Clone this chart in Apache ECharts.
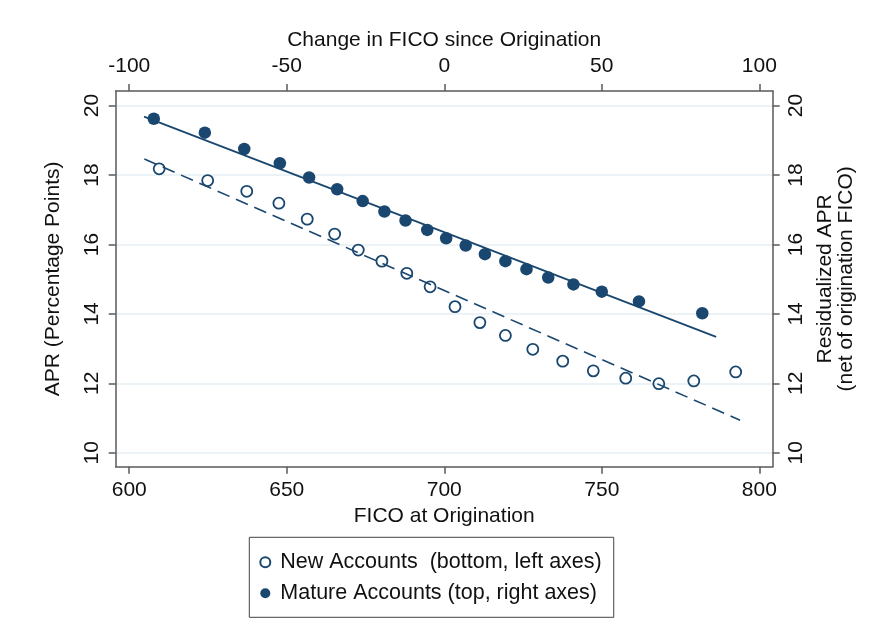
<!DOCTYPE html>
<html>
<head>
<meta charset="utf-8">
<script src="https://cdn.jsdelivr.net/npm/echarts@6/dist/echarts.min.js"></script>
<style>
html,body{margin:0;padding:0;background:#fff;}
#chart{width:873px;height:637px;}
</style>
</head>
<body>
<div id="chart"></div>
<script>
// ---- data ----
const newFico = [609.5,624.9,637.3,647.5,656.5,665.2,672.7,680.2,688.1,695.5,703.4,711.3,719.4,728.1,737.6,747.3,757.6,768.1,779.2,792.5];
const newApr = [18.18,17.84,17.53,17.19,16.73,16.30,15.84,15.52,15.17,14.78,14.21,13.75,13.38,12.98,12.64,12.36,12.15,11.99,12.07,12.33];
const matureChange = [-92.2,-76.0,-63.5,-52.2,-42.9,-34.0,-25.9,-19.0,-12.3,-5.4,0.6,6.8,12.9,19.4,26.1,33.0,41.0,50.0,61.8,81.9];
const matureApr = [19.62,19.22,18.75,18.34,17.93,17.59,17.25,16.95,16.69,16.42,16.18,15.97,15.72,15.52,15.29,15.05,14.85,14.64,14.36,14.02];
const newFitX = [604.8, 793.9];
const newFitY = [18.46, 10.94];
const matureFitX = [-95.3, 86.3];
const matureFitY = [19.68, 13.34];
const bottomTicks = [600,650,700,750,800];
const topTicks = [-100,-50,0,50,100];
const yTicks = [10,12,14,16,18,20];
const seriesNames = ['New Accounts  (bottom, left axes)', 'Mature Accounts (top, right axes)'];

const NAVY = '#1a476f';
const FONT = "'Liberation Sans', Arial, sans-serif";
const TXT = '#111';
const AXC = '#5a5a5a';

const zip = (a, b) => a.map((v, i) => [v, b[i]]);

function axisCommon(ticks) {
  return {
    axisLine: {show: true, onZero: false, lineStyle: {color: AXC, width: 1.5}},
    axisTick: {show: true, length: 7, customValues: ticks, lineStyle: {color: AXC, width: 1.5}},
    axisLabel: {customValues: ticks, color: TXT, fontFamily: FONT, fontSize: 21},
    nameTextStyle: {color: TXT, fontFamily: FONT, fontSize: 21},
    nameLocation: 'middle'
  };
}

const chart = echarts.init(document.getElementById('chart'), null, {renderer: 'canvas'});
const bx = axisCommon(bottomTicks), tx = axisCommon(topTicks), ly = axisCommon(yTicks), ry = axisCommon(yTicks);
bx.axisLabel.margin = 13; tx.axisLabel.margin = 14;
ly.axisLabel.margin = 13; ly.axisLabel.rotate = 90;
ry.axisLabel.margin = 13; ry.axisLabel.rotate = 90;

chart.setOption({
  animation: false,
  backgroundColor: '#fff',
  grid: {left: 115.7, right: 100.3, top: 91, bottom: 170.3, containLabel: false},
  legend: {
    data: seriesNames,
    orient: 'vertical',
    left: 249.3, top: 537.3,
    borderColor: '#444', borderWidth: 1,
    padding: [10, 12, 9, 10],
    itemWidth: 20, itemHeight: 10, itemGap: 1,
    textStyle: {color: TXT, fontFamily: FONT, fontSize: 21.5, lineHeight: 30}
  },
  xAxis: [
    Object.assign(bx, {type: 'value', position: 'bottom', min: 595.7, max: 804.25,
      name: 'FICO at Origination', nameGap: 36, splitLine: {show: false}}),
    Object.assign(tx, {type: 'value', position: 'top', min: -104.3, max: 104.25,
      name: 'Change in FICO since Origination', nameGap: 35, splitLine: {show: false}})
  ],
  yAxis: [
    Object.assign(ly, {type: 'value', position: 'left', min: 9.6, max: 20.42,
      name: 'APR (Percentage Points)', nameGap: 52, nameRotate: 90,
      splitLine: {show: true, lineStyle: {color: '#e6eff3', width: 1.5}}}),
    Object.assign(ry, {type: 'value', position: 'right', min: 9.6, max: 20.42,
      name: 'Residualized APR\n(net of origination FICO)', nameGap: 41, nameRotate: 90,
      splitLine: {show: false}})
  ],
  series: [
    {
      name: 'newFit', type: 'line', xAxisIndex: 0, yAxisIndex: 0, symbol: 'none', silent: true,
      data: zip(newFitX, newFitY),
      lineStyle: {color: NAVY, width: 1.6, type: [13, 7]}, z: 2
    },
    {
      name: 'matureFit', type: 'line', xAxisIndex: 1, yAxisIndex: 1, symbol: 'none', silent: true,
      data: zip(matureFitX, matureFitY),
      lineStyle: {color: NAVY, width: 1.8, type: 'solid'}, z: 2
    },
    {
      name: seriesNames[0], type: 'scatter', xAxisIndex: 0, yAxisIndex: 0,
      symbol: 'circle', symbolSize: 11,
      data: zip(newFico, newApr),
      itemStyle: {color: 'rgba(255,255,255,0)', borderColor: NAVY, borderWidth: 1.8, opacity: 1}, z: 3
    },
    {
      name: seriesNames[1], type: 'scatter', xAxisIndex: 1, yAxisIndex: 1,
      symbol: 'circle', symbolSize: 12.5,
      data: zip(matureChange, matureApr),
      itemStyle: {color: NAVY, opacity: 1}, z: 3
    }
  ]
});
</script>
</body>
</html>
